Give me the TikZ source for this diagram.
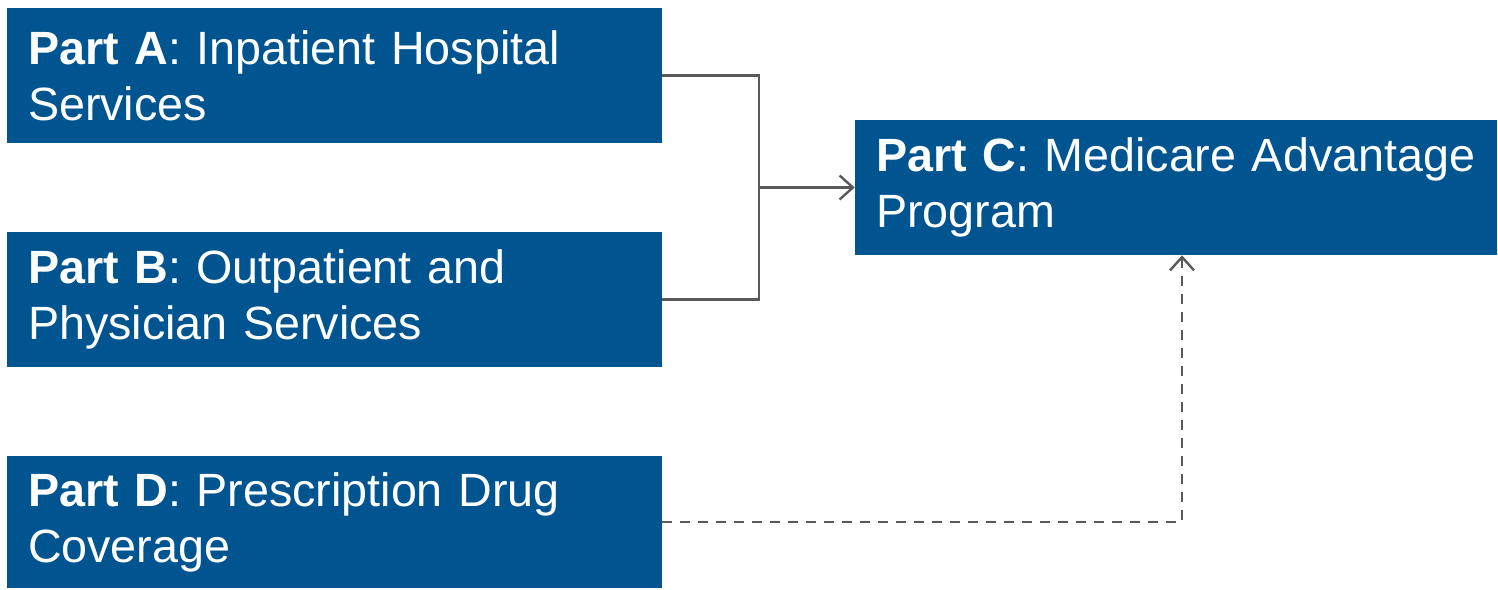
\documentclass[tikz,border=0pt]{standalone}
\usepackage{fontspec}
\setmainfont{Liberation Sans}
\usetikzlibrary{arrows.meta}
\definecolor{partblue}{RGB}{0,85,145}
\definecolor{linegray}{RGB}{89,89,89}
\tikzset{
  part/.style={fill=partblue,text=white,align=left,anchor=center,
    minimum height=101.25pt,inner ysep=0pt,inner xsep=15.75pt,
    text width=459.75pt,font=\fontsize{35}{42}\selectfont},
  conn/.style={draw=linegray,line width=1.8pt},
  tip/.style={-{Straight Barb[length=10pt,width=18pt,line width=1.8pt]}}
}
\begin{document}
\begin{tikzpicture}
    \useasboundingbox (0,0) rectangle (1123.5pt,441.75pt);

    \node[part] (a) at (250.875pt,385.125pt) {\textbf{Part A}: Inpatient Hospital\\Services};
    \node[part] (b) at (250.875pt,217.125pt) {\textbf{Part B}: Outpatient and\\Physician Services};
    \node[part,minimum height=99pt] (d) at (250.875pt,50.25pt) {\textbf{Part D}: Prescription Drug\\Coverage};
    \node[part,text width=450pt] (c) at (882pt,301.125pt) {\textbf{Part C}: Medicare Advantage\\Program};

    \coordinate (j) at (569.25pt,301.125pt);
    \draw[conn] (a.east) -| (j) |- (b.east);
    \draw[conn,tip] (j) -- (c.west);
    \draw[conn,tip,dash pattern=on 7.5pt off 6pt] (d.east) -| ([xshift=4.5pt]c.south);
  \end{tikzpicture}
\end{document}
